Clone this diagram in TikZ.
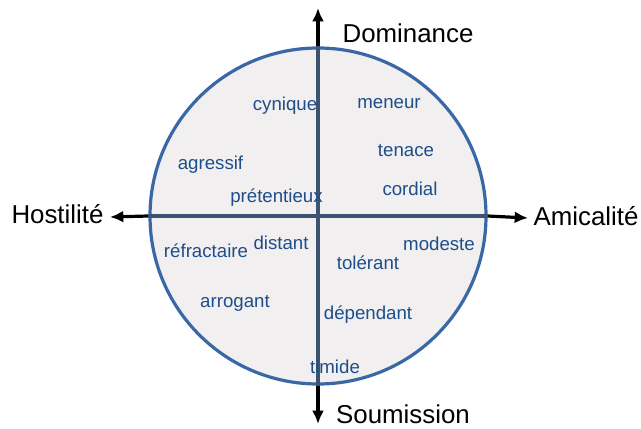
\documentclass[tikz,border=0pt]{standalone}
\usepackage{fontspec}
\setmainfont{Liberation Sans}
\usetikzlibrary{arrows.meta}
\definecolor{ringblue}{RGB}{58,103,166}
\definecolor{discfill}{RGB}{242,239,240}
\definecolor{wordblue}{RGB}{30,78,138}
\definecolor{axisslate}{RGB}{60,84,114}
\tikzstyle{disc} = [circle, draw=ringblue, fill=discfill, line width=2.4pt, minimum size=252pt, inner sep=0pt]
\tikzstyle{word} = [anchor=base, inner sep=0pt, text=wordblue, font=\fontsize{14}{16}\selectfont]
\tikzstyle{pole} = [anchor=base, inner sep=0pt, font=\fontsize{19.4}{22}\selectfont]
\tikzstyle{arrow} = [draw, line width=2.4pt, -{Latex[length=10pt,width=9pt]}]
\tikzstyle{inner} = [draw=axisslate, line width=2.6pt]

\begin{document}
\begin{tikzpicture}[x=0.75pt,y=-0.75pt]
 \useasboundingbox (0,0) rectangle (641,428);
 \node [disc] (C) at (318,216) {};
 \coordinate (N) at (318,8);
 \coordinate (S) at (318,424);
 \coordinate (W) at (110,217);
 \coordinate (E) at (528,218);
 \path [arrow] (C.north) -- (N);
 \path [arrow] (C.south) -- (S);
 \path [arrow] (C.west) -- (W);
 \path [arrow] (C.east) -- (E);
 \path [inner] (C.north) -- (C.south);
 \path [inner] (C.west) -- (C.east);
 % poles
 \node [pole] (dom) at (408,43) {Dominance};
 \node [pole] (sou) at (403,423.5) {Soumission};
 \node [pole] (hos) at (57.5,223) {Hostilité};
 \node [pole] (ami) at (586,225) {Amicalité};
 % traits
 \node [word] (cyn) at (285,110) {cynique};
 \node [word] (men) at (389,108) {meneur};
 \node [word] (agr) at (210.5,169) {agressif};
 \node [word] (ten) at (406,156.5) {tenace};
 \node [word] (pre) at (276.5,202.5) {prétentieux};
 \node [word] (cor) at (410,195) {cordial};
 \node [word] (ref) at (206,257) {réfractaire};
 \node [word] (dis) at (281,249) {distant};
 \node [word] (mod) at (439,250) {modeste};
 \node [word] (tol) at (368,269) {tolérant};
 \node [word] (arr) at (235,307) {arrogant};
 \node [word] (dep) at (368,319) {dépendant};
 \node [word] (tim) at (335,373) {timide};
\end{tikzpicture}
\end{document}
